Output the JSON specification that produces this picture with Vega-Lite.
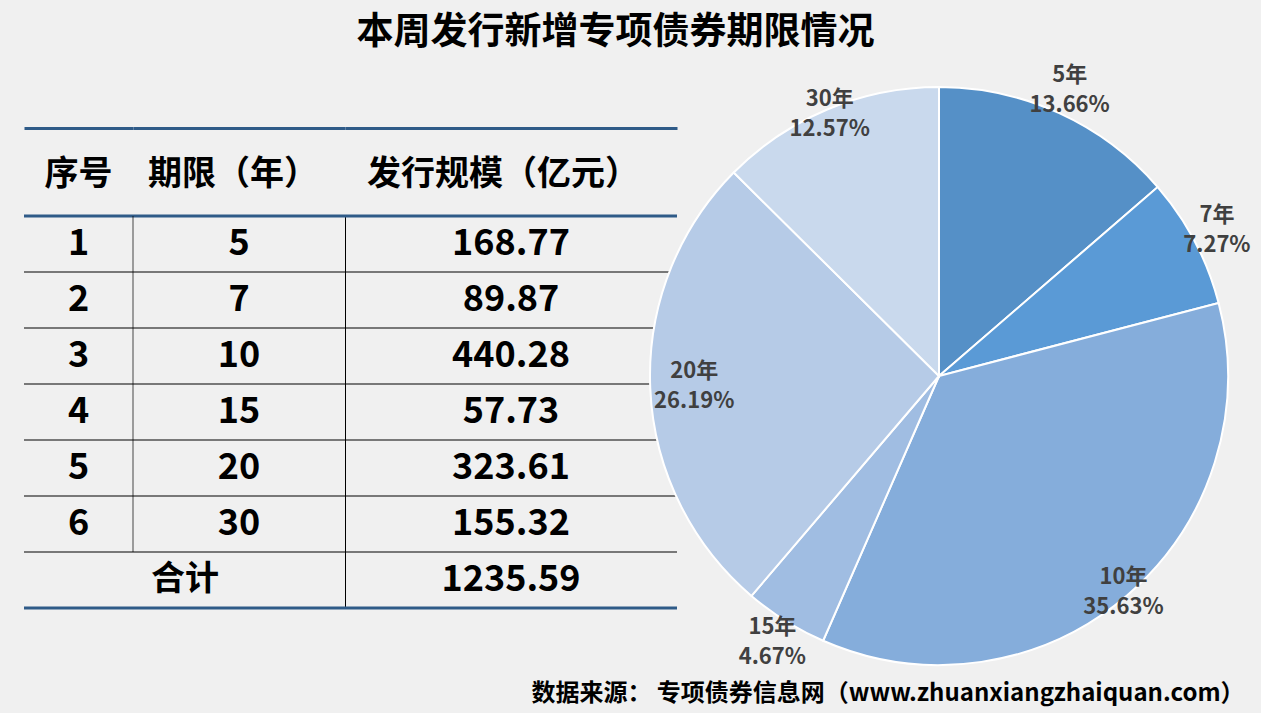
{
  "$schema": "https://vega.github.io/schema/vega-lite/v6.json",
  "background": "#f0f0f0",
  "padding": {"left": 22, "top": 14, "right": 10, "bottom": 8},
  "config": {"font": "Noto Sans CJK SC", "view": {"stroke": null}},
  "datasets": {
    "rows": [
      {"行": "1", "期限": 5, "规模": 168.77, "占比": "13.66%"},
      {"行": "2", "期限": 7, "规模": 89.87, "占比": "7.27%"},
      {"行": "3", "期限": 10, "规模": 440.28, "占比": "35.63%"},
      {"行": "4", "期限": 15, "规模": 57.73, "占比": "4.67%"},
      {"行": "5", "期限": 20, "规模": 323.61, "占比": "26.19%"},
      {"行": "6", "期限": 30, "规模": 155.32, "占比": "12.57%"}
    ],
    "total": [{"行": "合计", "规模": 1235.59}]
  },
  "title": {"text": "本周发行新增专项债券期限情况", "fontSize": 37, "fontWeight": "bold", "color": "#000000", "anchor": "middle", "dx": -21, "offset": 8},
  "bounds": "flush",
  "spacing": 0,
  "hconcat": [
    {
      "width": 109, "height": 392,
      "title": {"text": "序号", "fontSize": 34, "fontWeight": "bold", "color": "#000000", "anchor": "middle", "offset": -64},
      "layer": [
        {"data": {"name": "rows"}, "mark": {"type": "rule", "color": "#000000", "strokeWidth": 1},
         "encoding": {"y": {"field": "行", "type": "nominal", "bandPosition": 1, "scale": {"domain": ["1","2","3","4","5","6","合计"], "paddingInner": 0, "paddingOuter": 0}, "axis": null}}},
        {"data": {"name": "rows"}, "transform": [{"filter": "datum['行'] === '1'"}], "mark": {"type": "rule", "color": "#2f5b88", "strokeWidth": 3},
         "encoding": {"y": {"field": "行", "type": "nominal", "bandPosition": 0, "scale": {"domain": ["1","2","3","4","5","6","合计"], "paddingInner": 0, "paddingOuter": 0}, "axis": null}}},
        {"data": {"name": "total"}, "mark": {"type": "rule", "color": "#2f5b88", "strokeWidth": 3},
         "encoding": {"y": {"field": "行", "type": "nominal", "bandPosition": 1, "scale": {"domain": ["1","2","3","4","5","6","合计"], "paddingInner": 0, "paddingOuter": 0}, "axis": null}}},
        {"data": {"name": "rows"}, "mark": {"type": "text", "fontSize": 36, "fontWeight": "bold", "color": "#000000", "baseline": "middle"},
         "encoding": {
           "x": {"datum": 0.5, "type": "quantitative", "scale": {"domain": [0, 1]}, "axis": {"orient": "top", "offset": 88, "domainColor": "#2f5b88", "domainWidth": 3, "labels": false, "ticks": false, "grid": false, "title": null}},
           "y": {"field": "行", "type": "nominal", "scale": {"domain": ["1","2","3","4","5","6","合计"], "paddingInner": 0, "paddingOuter": 0}, "axis": null},
           "text": {"field": "行"}}}
      ]
    },
    {
      "width": 212, "height": 392,
      "title": {"text": "期限（年）", "fontSize": 34, "fontWeight": "bold", "color": "#000000", "anchor": "middle", "offset": -64, "dx": -6},
      "layer": [
        {"data": {"name": "rows"}, "mark": {"type": "rule", "color": "#000000", "strokeWidth": 1},
         "encoding": {"y": {"field": "行", "type": "nominal", "bandPosition": 1, "scale": {"domain": ["1","2","3","4","5","6","合计"], "paddingInner": 0, "paddingOuter": 0}, "axis": null}}},
        {"data": {"name": "rows"}, "transform": [{"filter": "datum['行'] === '1'"}], "mark": {"type": "rule", "color": "#2f5b88", "strokeWidth": 3},
         "encoding": {"y": {"field": "行", "type": "nominal", "bandPosition": 0, "scale": {"domain": ["1","2","3","4","5","6","合计"], "paddingInner": 0, "paddingOuter": 0}, "axis": null}}},
        {"data": {"name": "total"}, "mark": {"type": "rule", "color": "#2f5b88", "strokeWidth": 3},
         "encoding": {"y": {"field": "行", "type": "nominal", "bandPosition": 1, "scale": {"domain": ["1","2","3","4","5","6","合计"], "paddingInner": 0, "paddingOuter": 0}, "axis": null}}},
        {"data": {"name": "rows"}, "mark": {"type": "tick", "color": "#000000", "thickness": 1, "size": 56, "orient": "vertical"},
         "encoding": {
           "x": {"datum": 0, "type": "quantitative", "scale": {"domain": [0, 1]}, "axis": {"orient": "top", "offset": 88, "domainColor": "#2f5b88", "domainWidth": 3, "labels": false, "ticks": false, "grid": false, "title": null}},
           "y": {"field": "行", "type": "nominal", "scale": {"domain": ["1","2","3","4","5","6","合计"], "paddingInner": 0, "paddingOuter": 0}, "axis": null}}},
        {"data": {"name": "rows"}, "mark": {"type": "text", "fontSize": 36, "fontWeight": "bold", "color": "#000000", "baseline": "middle"},
         "encoding": {
           "x": {"datum": 0.5, "type": "quantitative", "scale": {"domain": [0, 1]}, "axis": {"orient": "top", "offset": 88, "domainColor": "#2f5b88", "domainWidth": 3, "labels": false, "ticks": false, "grid": false, "title": null}},
           "y": {"field": "行", "type": "nominal", "scale": {"domain": ["1","2","3","4","5","6","合计"], "paddingInner": 0, "paddingOuter": 0}, "axis": null},
           "text": {"field": "期限"}}},
        {"data": {"name": "total"}, "mark": {"type": "text", "fontSize": 34, "fontWeight": "bold", "color": "#000000", "baseline": "middle", "dx": -54},
         "encoding": {
           "x": {"datum": 0.5, "type": "quantitative", "scale": {"domain": [0, 1]}, "axis": {"orient": "top", "offset": 88, "domainColor": "#2f5b88", "domainWidth": 3, "labels": false, "ticks": false, "grid": false, "title": null}},
           "y": {"field": "行", "type": "nominal", "scale": {"domain": ["1","2","3","4","5","6","合计"], "paddingInner": 0, "paddingOuter": 0}, "axis": null},
           "text": {"field": "行"}}}
      ]
    },
    {
      "width": 332, "height": 392,
      "title": {"text": "发行规模（亿元）", "fontSize": 34, "fontWeight": "bold", "color": "#000000", "anchor": "middle", "offset": -64, "dx": -8},
      "layer": [
        {"data": {"name": "rows"}, "mark": {"type": "rule", "color": "#000000", "strokeWidth": 1},
         "encoding": {"y": {"field": "行", "type": "nominal", "bandPosition": 1, "scale": {"domain": ["1","2","3","4","5","6","合计"], "paddingInner": 0, "paddingOuter": 0}, "axis": {"orient": "left", "labels": false, "ticks": false, "grid": false, "domain": true, "domainColor": "#000000", "domainWidth": 1, "title": null}}}},
        {"data": {"name": "rows"}, "transform": [{"filter": "datum['行'] === '1'"}], "mark": {"type": "rule", "color": "#2f5b88", "strokeWidth": 3},
         "encoding": {"y": {"field": "行", "type": "nominal", "bandPosition": 0, "scale": {"domain": ["1","2","3","4","5","6","合计"], "paddingInner": 0, "paddingOuter": 0}, "axis": {"orient": "left", "labels": false, "ticks": false, "grid": false, "domain": true, "domainColor": "#000000", "domainWidth": 1, "title": null}}}},
        {"data": {"name": "total"}, "mark": {"type": "rule", "color": "#2f5b88", "strokeWidth": 3},
         "encoding": {"y": {"field": "行", "type": "nominal", "bandPosition": 1, "scale": {"domain": ["1","2","3","4","5","6","合计"], "paddingInner": 0, "paddingOuter": 0}, "axis": {"orient": "left", "labels": false, "ticks": false, "grid": false, "domain": true, "domainColor": "#000000", "domainWidth": 1, "title": null}}}},
        {"data": {"name": "rows"}, "mark": {"type": "text", "fontSize": 36, "fontWeight": "bold", "color": "#000000", "baseline": "middle"},
         "encoding": {
           "x": {"datum": 0.5, "type": "quantitative", "scale": {"domain": [0, 1]}, "axis": {"orient": "top", "offset": 88, "domainColor": "#2f5b88", "domainWidth": 3, "labels": false, "ticks": false, "grid": false, "title": null}},
           "y": {"field": "行", "type": "nominal", "scale": {"domain": ["1","2","3","4","5","6","合计"], "paddingInner": 0, "paddingOuter": 0}, "axis": {"orient": "left", "labels": false, "ticks": false, "grid": false, "domain": true, "domainColor": "#000000", "domainWidth": 1, "title": null}},
           "text": {"field": "规模", "type": "quantitative", "format": ".2f"}}},
        {"data": {"name": "total"}, "mark": {"type": "text", "fontSize": 36, "fontWeight": "bold", "color": "#000000", "baseline": "middle"},
         "encoding": {
           "x": {"datum": 0.5, "type": "quantitative", "scale": {"domain": [0, 1]}, "axis": {"orient": "top", "offset": 88, "domainColor": "#2f5b88", "domainWidth": 3, "labels": false, "ticks": false, "grid": false, "title": null}},
           "y": {"field": "行", "type": "nominal", "scale": {"domain": ["1","2","3","4","5","6","合计"], "paddingInner": 0, "paddingOuter": 0}, "axis": {"orient": "left", "labels": false, "ticks": false, "grid": false, "domain": true, "domainColor": "#000000", "domainWidth": 1, "title": null}},
           "text": {"field": "规模", "type": "quantitative", "format": ".2f"}}}
      ]
    },
    {
      "width": 524, "height": 320,
      "data": {"name": "rows"},
      "transform": [{"calculate": "[datum['期限'] + '年', datum['占比']]", "as": "label"}],
      "title": {"text": "数据来源： 专项债券信息网（www.zhuanxiangzhaiquan.com）", "orient": "bottom", "anchor": "end", "fontSize": 24, "fontWeight": "bold", "color": "#000000", "offset": 13, "dx": -6},
      "encoding": {
        "theta": {"field": "规模", "type": "quantitative", "stack": true},
        "order": {"field": "期限", "type": "quantitative", "sort": "ascending"},
        "color": {"field": "期限", "type": "ordinal", "scale": {"domain": [5, 7, 10, 15, 20, 30], "range": ["#5590c7", "#5a9ad6", "#85addb", "#a0bde2", "#b6cbe7", "#c9d9ed"]}, "legend": null}
      },
      "layer": [
        {"mark": {"type": "arc", "outerRadius": 289, "stroke": "#ffffff", "strokeWidth": 2}},
        {"mark": {"type": "text", "radius": 314, "fontSize": 22, "fontWeight": "bold", "lineHeight": 30, "dy": -15},
         "encoding": {"text": {"condition": {"test": "indexof([5, 7, 15], datum['期限']) >= 0", "field": "label"}, "value": ""}, "color": {"value": "#404040"}}},
        {"mark": {"type": "text", "radius": 284, "fontSize": 22, "fontWeight": "bold", "lineHeight": 30, "dy": -15},
         "encoding": {"text": {"condition": {"test": "indexof([10, 30], datum['期限']) >= 0", "field": "label"}, "value": ""}, "color": {"value": "#404040"}}},
        {"mark": {"type": "text", "radius": 245, "fontSize": 22, "fontWeight": "bold", "lineHeight": 30, "dy": -15},
         "encoding": {"text": {"condition": {"test": "datum['期限'] === 20", "field": "label"}, "value": ""}, "color": {"value": "#404040"}}}
      ]
    }
  ]
}
